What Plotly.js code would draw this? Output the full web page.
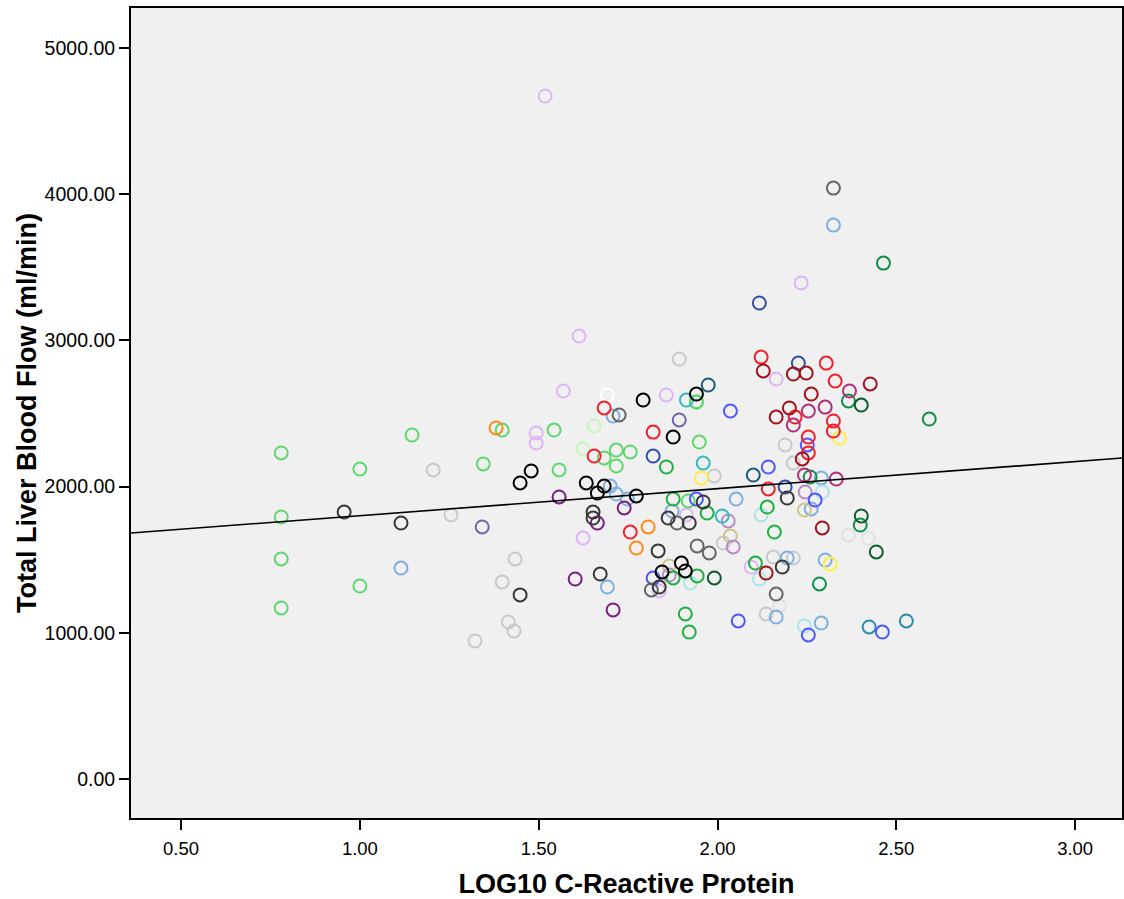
<!DOCTYPE html>
<html>
<head>
<meta charset="utf-8">
<script src="https://cdn.plot.ly/plotly-3.0.1.min.js"></script>
<style>html,body{margin:0;padding:0;background:#fff;}#chart{width:1124px;height:899px;}</style>
</head>
<body>
<div id="chart"></div>
<script>
// ---- Data: LOG10 C-Reactive Protein (x) vs Total Liver Blood Flow ml/min (y), by group ----
const xLightGreen = [0.78,0.78,0.78,0.78,1.00,1.00,1.146,1.345,1.398,1.543,1.557,1.683,1.717,1.756,1.717,1.941,1.949,1.918,1.941];
const yLightGreen = [2230,1792,1505,1170,2120,1320,2353,2155,2387,2387,2114,2196,2250,2237,2141,2579,2305,1902,2579];
const xBlack = [1.448,1.479,1.633,1.683,1.664,1.773,1.792,1.876,1.941,1.845,1.899,1.910];
const yBlack = [2025,2107,2025,2004,1956,1936,2592,2339,2633,1416,1477,1423];
const xDarkGrey = [0.956,1.115,1.448,1.652,1.652,1.672,1.834,1.862,1.921,1.960,1.837,2.195,2.181];
const yDarkGrey = [1826,1751,1259,1826,1785,1402,1560,1785,1751,1895,1313,1922,1450];
const xGrey = [1.725,1.887,1.943,1.815,2.164,1.977,2.324];
const yGrey = [2490,1751,1594,1293,1265,1546,4042];
const xLightGrey = [1.205,1.255,1.434,1.398,1.415,1.431,1.322,1.893,1.991,2.189,2.212,2.016,2.156,2.212,2.136];
const yLightGrey = [2114,1806,1505,1348,1074,1012,944,2873,2073,2285,2161,1614,1518,1512,1129];
const xPaleGrey = [2.366,2.422,2.173];
const yPaleGrey = [1669,1648,1183];
const xLavender = [1.518,1.613,1.569,1.857,1.493,1.493,1.624,1.913,1.837,2.234,2.164,2.094];
const yLavender = [4672,3030,2654,2627,2367,2298,1648,1806,1286,3393,2736,1450];
const xLightBlue = [1.115,1.708,1.700,1.717,1.748,1.873,1.692,2.052,2.290,2.262,2.195,2.301,2.164,2.290,2.324];
const yLightBlue = [1443,2483,2004,1949,1915,1833,1313,1915,2059,1847,1512,1498,1108,1067,3789];
const xRed = [1.683,1.820,1.655,1.756,2.122,2.304,2.329,2.217,2.324,2.324,2.254,2.254,2.142];
const yRed = [2538,2373,2209,1689,2886,2845,2722,2476,2449,2380,2339,2230,1984];
const xDarkRed = [2.128,2.212,2.248,2.427,2.262,2.201,2.164,2.237,2.293,2.136];
const yDarkRed = [2791,2770,2777,2702,2633,2538,2476,2189,1717,1409];
const xMagenta = [2.369,2.212,2.254,2.301,2.243,2.332];
const yMagenta = [2654,2421,2517,2544,2079,2052];
const xBlue = [1.941,1.820,2.036,2.251,2.142,2.273,2.058,2.254,2.461];
const yBlue = [1915,1375,2517,2285,2134,1908,1081,985,1005];
const xNavy = [1.820,2.117,2.226,2.189];
const yNavy = [2209,3256,2845,1997];
const xGreen = [1.857,1.876,1.971,1.943,1.910,1.921,2.139,2.159,2.106,1.876];
const yGreen = [2134,1915,1819,1389,1129,1005,1860,1689,1477,1375];
const xMidGreen = [2.464,2.366,2.592,2.259,2.399,2.285];
const yMidGreen = [3529,2586,2462,2066,1737,1334];
const xDarkGreen = [2.402,2.402,2.444,1.991];
const yDarkGreen = [2558,1799,1553,1375];
const xTeal = [2.424,2.528];
const yTeal = [1040,1081];
const xDarkTeal = [1.974,2.100];
const yDarkTeal = [2695,2079];
const xCyan = [1.913,1.960,2.013];
const yCyan = [2592,2161,1799];
const xLightCyan = [1.924,2.122,2.293,2.117,2.243];
const yLightCyan = [1341,1806,1963,1368,1047];
const xOrange = [1.381,1.806,1.773];
const yOrange = [2401,1724,1580];
const xYellow = [1.955,2.341,2.315];
const yYellow = [2059,2332,1471];
const xPurple = [1.557,1.602,1.708,1.739,1.664];
const yPurple = [1929,1368,1156,1854,1751];
const xSlate = [1.342,1.893];
const ySlate = [1724,2456];
const xLightPurple = [1.865,2.030,2.044,2.245];
const yLightPurple = [1395,1765,1587,1963];
const xKhaki = [1.865,2.036,2.243];
const yKhaki = [1457,1662,1840];
const xPaleGreen = [1.655,1.624];
const yPaleGreen = [2415,2257];
const xWhite = [1.692];
const yWhite = [2627];

// Linear fit line
const fitIntercept = 1616;
const fitSlope = 185;

const xTickVals = [0.5,1.0,1.5,2.0,2.5,3.0];
const xTickText = ["0.50","1.00","1.50","2.00","2.50","3.00"];
const yTickVals = [0,1000,2000,3000,4000,5000];
const yTickText = ["0.00","1000.00","2000.00","3000.00","4000.00","5000.00"];

// ---- Styling ----
const series = [
  [xPaleGrey, yPaleGrey, '#E0E0E0'],
  [xLightGrey, yLightGrey, '#C9C9C9'],
  [xLavender, yLavender, '#DDB6F3'],
  [xPaleGreen, yPaleGreen, '#C4F7B8'],
  [xWhite, yWhite, '#FFFFFF'],
  [xLightGreen, yLightGreen, '#5ED86E'],
  [xLightBlue, yLightBlue, '#7CB0E2'],
  [xLightCyan, yLightCyan, '#ABE5EA'],
  [xKhaki, yKhaki, '#CFC488'],
  [xLightPurple, yLightPurple, '#B48ECB'],
  [xYellow, yYellow, '#FFEF45'],
  [xOrange, yOrange, '#FF8A1A'],
  [xCyan, yCyan, '#33B9C1'],
  [xTeal, yTeal, '#2A8BB5'],
  [xDarkTeal, yDarkTeal, '#1A5E7A'],
  [xSlate, ySlate, '#6A6AAA'],
  [xPurple, yPurple, '#7A1F80'],
  [xGreen, yGreen, '#1FB140'],
  [xMidGreen, yMidGreen, '#0E9146'],
  [xDarkGreen, yDarkGreen, '#0B5C2D'],
  [xBlue, yBlue, '#4F55FF'],
  [xNavy, yNavy, '#3050A8'],
  [xRed, yRed, '#F0202C'],
  [xDarkRed, yDarkRed, '#A0121C'],
  [xMagenta, yMagenta, '#B03078'],
  [xGrey, yGrey, '#666666'],
  [xDarkGrey, yDarkGrey, '#383838'],
  [xBlack, yBlack, '#000000']
];

const xRange = [0.36, 3.131];
const yRange = [-267, 5274];

const traces = series.map(s => ({
  type: 'scatter', mode: 'markers', x: s[0], y: s[1],
  marker: {symbol: 'circle-open', size: 13, color: s[2], line: {width: 2, color: s[2]}},
  hoverinfo: 'x+y', showlegend: false
}));

traces.push({
  type: 'scatter', mode: 'lines',
  x: xRange, y: xRange.map(v => fitIntercept + fitSlope * v),
  line: {color: '#000000', width: 1.6}, showlegend: false, hoverinfo: 'skip'
});

const titleFont = {family: '"Liberation Sans", Arial, sans-serif', size: 27, color: '#000'};

const layout = {
  width: 1124, height: 899,
  margin: {l: 131, r: 2, t: 8, b: 81, pad: 0},
  paper_bgcolor: '#FFFFFF', plot_bgcolor: '#F0F0F0',
  showlegend: false,
  xaxis: {
    range: xRange, tickmode: 'array', tickvals: xTickVals, ticktext: xTickText,
    ticks: 'outside', ticklen: 10, tickwidth: 2, tickcolor: '#000',
    showgrid: false, zeroline: false, showline: true, mirror: true, linecolor: '#000', linewidth: 2,
    tickfont: {family: '"Liberation Sans", Arial, sans-serif', size: 18.5, color: '#000'},
    ticklabelstandoff: 3,
    title: {text: '<b>LOG10 C-Reactive Protein</b>', font: titleFont, standoff: 16}
  },
  yaxis: {
    range: yRange, tickmode: 'array', tickvals: yTickVals, ticktext: yTickText,
    ticks: 'outside', ticklen: 10, tickwidth: 2, tickcolor: '#000',
    showgrid: false, zeroline: false, showline: true, mirror: true, linecolor: '#000', linewidth: 2,
    tickfont: {family: '"Liberation Sans", Arial, sans-serif', size: 19.5, color: '#000'},
    title: {text: '<b>Total Liver Blood Flow (ml/min)</b>', font: titleFont, standoff: 0}
  }
};

Plotly.newPlot('chart', traces, layout, {displayModeBar: false, staticPlot: true});
</script>
</body>
</html>
